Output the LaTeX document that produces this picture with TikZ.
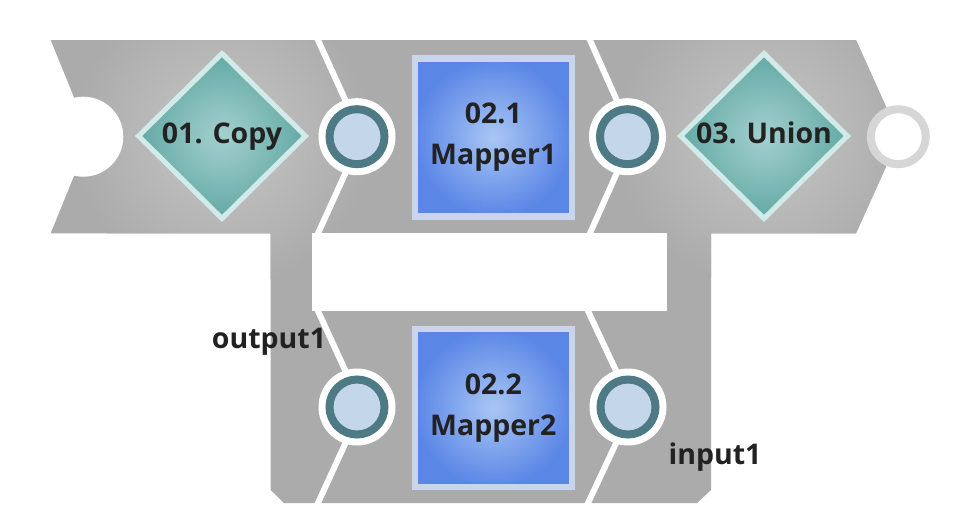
\documentclass[tikz,border=0pt]{standalone}
\usepackage{fontspec}
\setmainfont{Open Sans}
\usetikzlibrary{shapes.geometric}
\definecolor{band}{HTML}{ABABAB}
\definecolor{glow}{HTML}{C6C6C6}
\definecolor{ring}{HTML}{4E7A85}
\definecolor{portfill}{HTML}{C3D6EA}
\definecolor{tealout}{HTML}{63A9A5}
\definecolor{tealin}{HTML}{A3D0CE}
\definecolor{tealedge}{HTML}{D3EBE8}
\definecolor{blueout}{HTML}{5A86E6}
\definecolor{bluein}{HTML}{A9C6F4}
\definecolor{blueedge}{HTML}{C8D5EA}
\definecolor{ink}{HTML}{222222}
\definecolor{outring}{HTML}{D6D6D6}
\tikzset{
  lbl/.style={font=\fontsize{28.5}{41}\selectfont\bfseries, text=ink, align=center},
  joint/.style={circle, minimum size=55pt, inner sep=0pt, line width=8pt, draw=ring, fill=portfill},
  openjoint/.style={joint, draw=outring, fill=white},
  halo/.style={circle, fill=white, minimum size=77pt, inner sep=0pt},
  gap/.style={white, line width=6pt, line join=miter},
  decision/.style={diamond, minimum width=169pt, minimum height=167pt, inner sep=0pt,
    line width=5pt, draw=tealedge, inner color=tealin, outer color=tealout, lbl,
    text depth=6.5pt},
  mapbox/.style={rectangle, minimum width=157pt, minimum height=158pt, inner sep=0pt,
    line width=6.5pt, draw=blueedge, inner color=bluein, outer color=blueout, lbl},
}
\begin{document}
\begin{tikzpicture}[x=1pt,y=-1pt]
\useasboundingbox (0,0) rectangle (975,523);
\def\bandpath{(50.7,40) -- (856,40) -- (899.5,136.7) -- (856,233.3) -- (711,233.3) -- (711,490) -- (697,503) -- (284,503) -- (270.7,490) -- (270.7,233.3) -- (50.7,233.3) -- (90,136.7) -- cycle}
% grey snap band
\fill[band] \bandpath;
\begin{scope}
  \clip \bandpath;
  \shade[inner color=glow, outer color=band] (222,137) circle[radius=150pt];
  \shade[inner color=glow, outer color=band] (764,137) circle[radius=150pt];
\end{scope}
% white hole between rows
\fill[white] (311.7,233.3) rectangle (667.3,311);
% separators between snaps
\draw[gap] (315.7,35) -- (362,136.7) -- (315.7,238.4);
\draw[gap] (587.7,35) -- (633,136.7) -- (587.7,238.4);
\draw[gap] (315.7,306) -- (362,407) -- (315.7,508);
\draw[gap] (585.7,306) -- (633,407) -- (585.7,508);
% left input notch of Copy
\fill[white] (83.3,136.7) circle[radius=40pt];
% halos and ports
\node[halo] (h1) at (357,136.7) {};
\node[halo] (h2) at (627.5,136.7) {};
\node[halo] (h3) at (357,407) {};
\node[halo] (h4) at (628,407) {};
\node[joint] (p1) at (357,136.7) {};
\node[joint] (p2) at (627.5,136.7) {};
\node[joint] (p3) at (357,407) {};
\node[joint] (p4) at (628,407) {};
\node[openjoint] (pout) at (898.3,136.7) {};
% snaps
\node[decision] (copy) at (222,136) {01. Copy};
\node[decision] (union) at (764,136) {03. Union};
\node[mapbox] (m1) at (493.3,137.5) {02.1\\Mapper1};
\node[mapbox] (m2) at (493.3,408) {02.2\\Mapper2};
% labels
\node[lbl] (lout) at (269,342) {output1};
\node[lbl] (lin) at (715,457) {input1};
\end{tikzpicture}
\end{document}
